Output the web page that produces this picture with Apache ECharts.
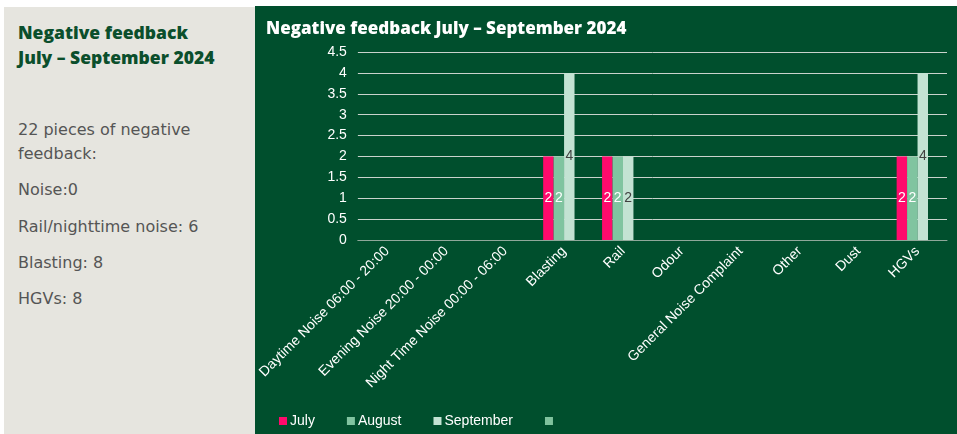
<!DOCTYPE html>
<html>
<head>
<meta charset="utf-8">
<script src="https://cdn.jsdelivr.net/npm/echarts@6/dist/echarts.min.js"></script>
<style>
html,body{margin:0;padding:0;width:957px;height:434px;background:#ffffff;overflow:hidden;}
#left{position:absolute;left:4px;top:7px;width:251px;height:427px;background:#e6e5df;}
#left h2{position:absolute;left:14px;top:13px;margin:0;font-family:"Open Sans",sans-serif;font-size:17.5px;line-height:25px;font-weight:800;color:#0b4f2c;}
#left p{position:absolute;left:14px;margin:0;font-family:"DejaVu Sans",sans-serif;font-size:16px;line-height:24px;color:#555555;}
#chart{position:absolute;left:255px;top:6px;width:702px;height:428px;}
</style>
</head>
<body>
<div id="left">
<h2>Negative feedback<br>July – September 2024</h2>
<p style="top:111px">22 pieces of negative<br>feedback:</p>
<p style="top:171px">Noise:0</p>
<p style="top:208px">Rail/nighttime noise: 6</p>
<p style="top:244px">Blasting: 8</p>
<p style="top:280px">HGVs: 8</p>
</div>
<div id="chart"></div>
<script>
var categories = ["Daytime Noise 06:00 - 20:00","Evening Noise 20:00 - 00:00","Night Time Noise 00:00 - 06:00","Blasting","Rail","Odour","General Noise Complaint","Other","Dust","HGVs"];
var july = [0,0,0,2,2,0,0,0,0,2];
var august = [0,0,0,2,2,0,0,0,0,2];
var september = [0,0,0,4,2,0,0,0,0,4];
var fourth = [0,0,0,0,0,0,0,0,0,0];
var yTicks = {min:0, max:4.5, interval:0.5};

var chart = echarts.init(document.getElementById('chart'));
function lbl(color){
  return {show:true, position:'inside', color:color, fontSize:14, fontFamily:'Liberation Sans',
    formatter:function(p){return p.value ? String(p.value) : '';}};
}
chart.setOption({
  backgroundColor:'#004f2d',
  animation:false,
  title:{text:'Negative feedback July – September 2024', left:6, top:10,
    textStyle:{color:'#ffffff', fontSize:17, fontWeight:800, fontFamily:'Open Sans'}},
  legend:{left:19, top:403, itemWidth:8, itemHeight:8, itemGap:32,
    icon:'rect',
    textStyle:{color:'#ffffff', fontSize:14, fontFamily:'Liberation Sans', padding:[0,0,0,-2]},
    data:['July','August','September',' ']},
  grid:{left:99, right:10, top:46, bottom:194},
  xAxis:{type:'category', data:categories,
    axisLine:{lineStyle:{color:'#8fa89a', width:1}},
    axisTick:{show:false},
    axisLabel:{rotate:45, interval:0, color:'#ffffff', fontSize:14, fontFamily:'Liberation Sans', margin:9}},
  yAxis:{type:'value', min:yTicks.min, max:yTicks.max, interval:yTicks.interval,
    axisLine:{show:false}, axisTick:{show:false},
    axisLabel:{color:'#ffffff', fontSize:14, fontFamily:'Liberation Sans', margin:11},
    splitLine:{lineStyle:{color:'#c9d3cc', width:1}}},
  series:[
    {name:'July', type:'bar', data:july, barGap:'0%', barCategoryGap:'29%', itemStyle:{color:'#ff0a6c'}, label:lbl('#ffffff')},
    {name:'August', type:'bar', data:august, itemStyle:{color:'#80c4a0'}, label:lbl('#ffffff')},
    {name:'September', type:'bar', data:september, itemStyle:{color:'#c3e3d3'}, label:lbl('#404040')},
    {name:' ', type:'bar', data:fourth, itemStyle:{color:'#7fc29d'}, label:{show:false}}
  ]
});
</script>
</body>
</html>
